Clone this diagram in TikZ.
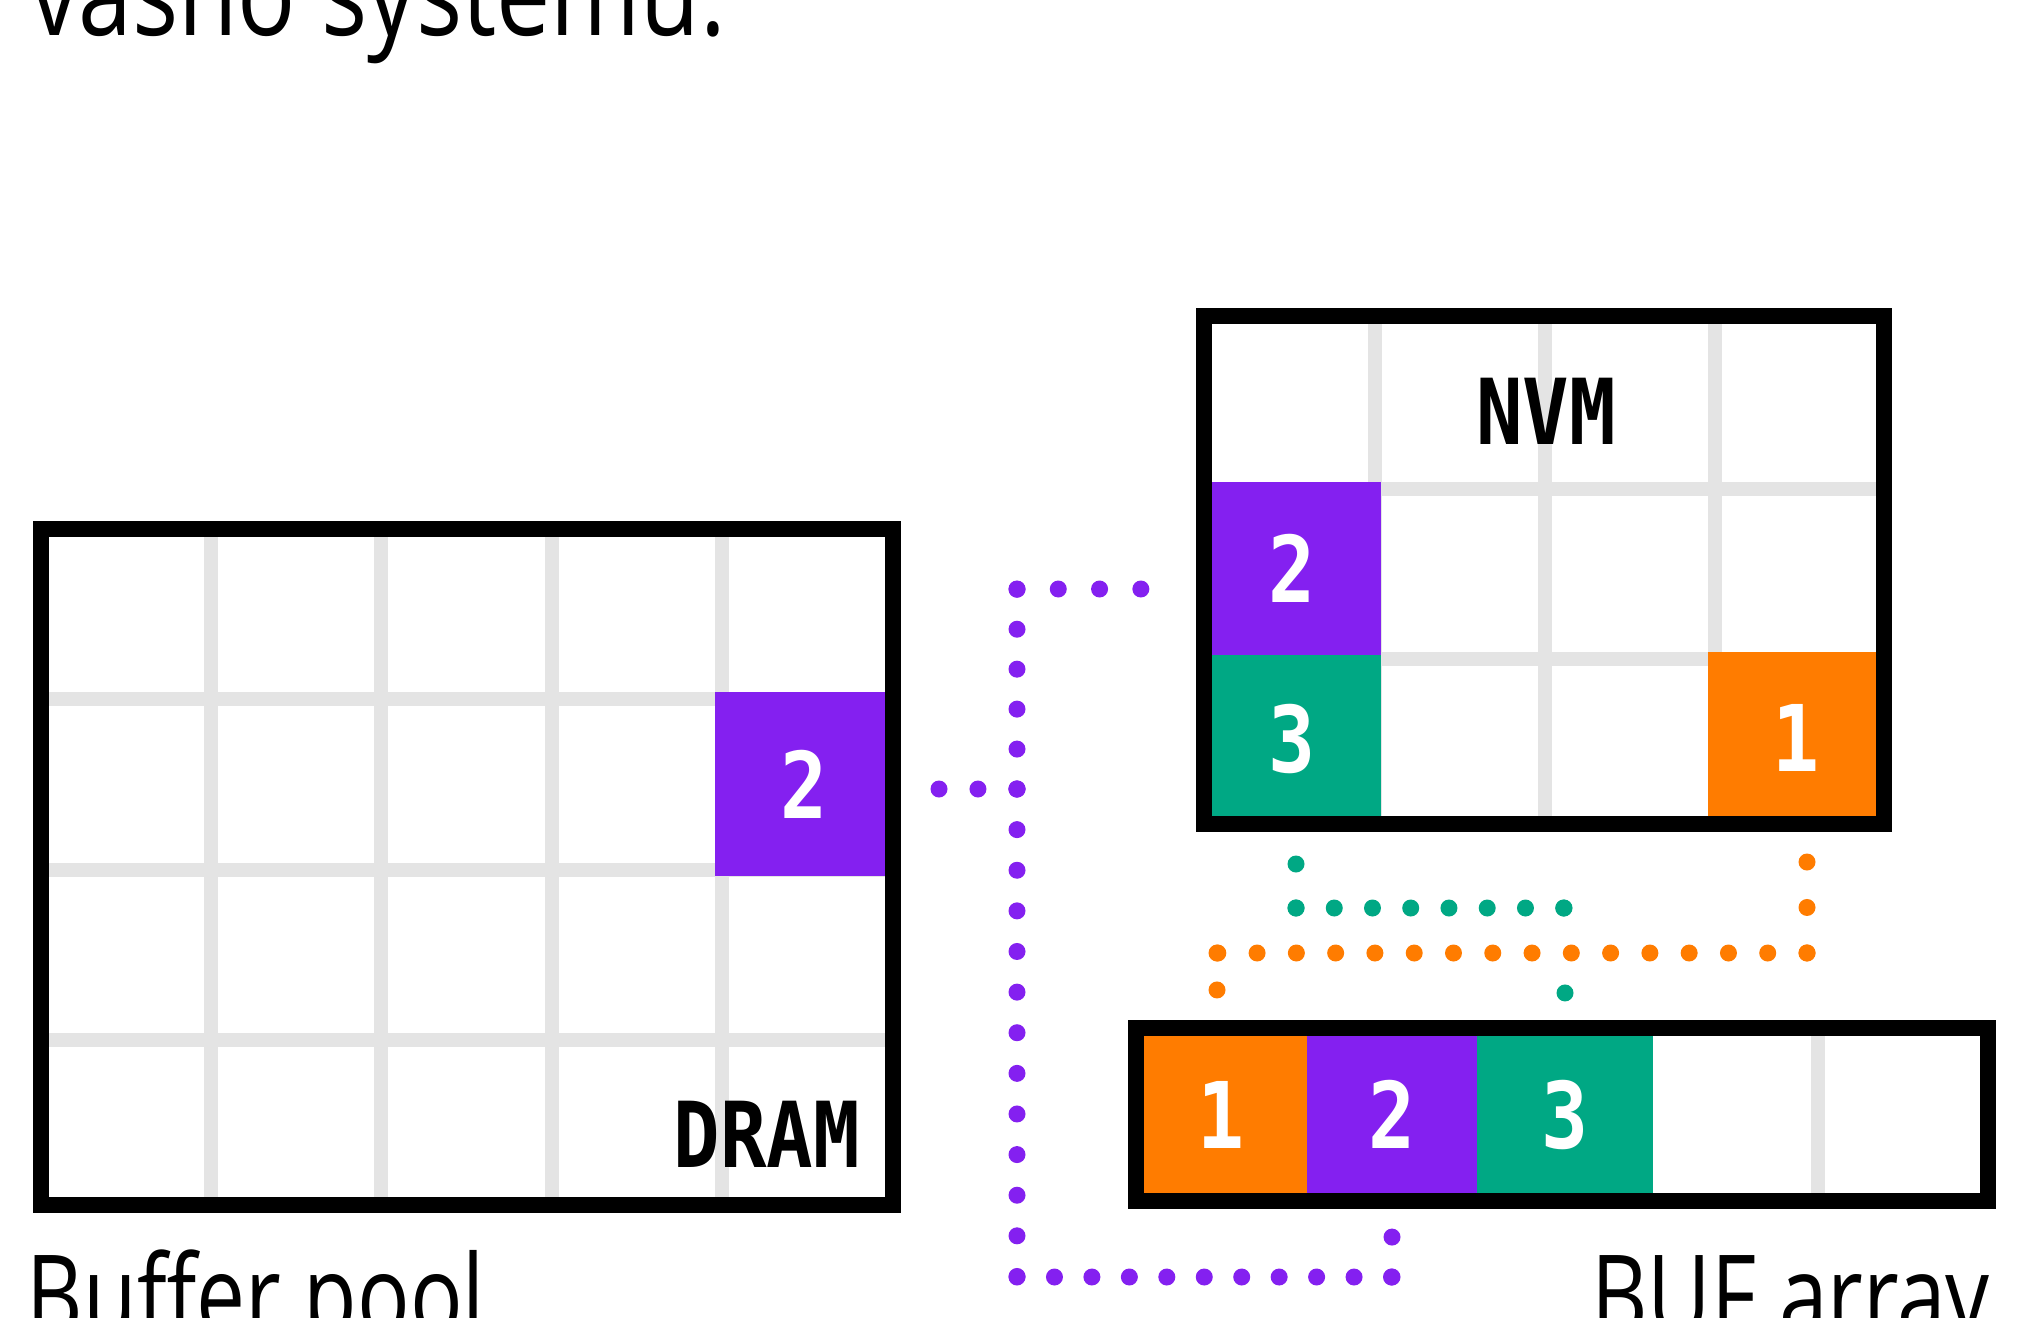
\documentclass[tikz,border=0pt]{standalone}
\usepackage{fontspec}
\newfontfamily\txfont{Open Sans}[FakeStretch=0.78]
\newfontfamily\ttlfont{Open Sans}[FakeStretch=0.82]
\newfontfamily\dgfont{DejaVu Sans Mono}[FakeStretch=0.85]
\definecolor{cpurple}{RGB}{132,32,240}
\definecolor{corange}{RGB}{255,124,0}
\definecolor{cgreen}{RGB}{0,168,132}
\definecolor{cgrid}{RGB}{228,228,228}
\tikzset{
  boxbg/.style={fill=white, inner sep=0pt, outer sep=0pt},
  boxline/.style={draw=black, line width=16pt},
  gridline/.style={draw=cgrid, line width=14pt},
  cell/.style={inner sep=0pt, outer sep=0pt, text=white, font=\dgfont\bfseries\fontsize{92}{92}\selectfont},
  memlabel/.style={inner sep=0pt, outer sep=0pt, text=black, font=\dgfont\bfseries\fontsize{91}{91}\selectfont},
  caption/.style={inner sep=0pt, outer sep=0pt, text=black, font=\txfont\fontsize{112}{112}\selectfont},
  titlecap/.style={inner sep=0pt, outer sep=0pt, text=black, font=\ttlfont\fontsize{118}{118}\selectfont},
  dotpath/.style={line width=17pt, line cap=round, dash pattern=on 0pt off #1},
}
\begin{document}
\begin{tikzpicture}[x=1pt,y=-1pt]
\path[use as bounding box, fill=white] (0,0) rectangle (2026,1317);
\clip (0,0) rectangle (2026,1317);

% captions
\node[titlecap, anchor=base west] (title) at (30,35) {vasho systemu.};
\node[caption, anchor=base west] (cappool) at (27,1335) {Buffer pool};
\node[caption, anchor=base east] (capbuf) at (1990,1335) {BUF array};

% ---------- DRAM ----------
\node[boxbg, minimum width=852pt, minimum height=676pt] (dram) at (467,867) {};
\foreach \x in {211,381,552,722} \draw[gridline] (\x,529) -- (\x,1205);
\foreach \y in {699,869.5,1039.5} \draw[gridline] (41,\y) -- (893,\y);
\node[cell, fill=cpurple, minimum width=178pt, minimum height=184pt] (dram2) at (804,784) {2};
\draw[boxline] (dram.north west) rectangle (dram.south east);
\node[memlabel, anchor=base east] (dramlabel) at (860,1167) {DRAM};

% ---------- NVM ----------
\node[boxbg, minimum width=680pt, minimum height=508pt] (nvm) at (1544,570) {};
\foreach \x in {1375,1545,1715} \draw[gridline] (\x,316) -- (\x,824);
\foreach \y in {489,659} \draw[gridline] (1204,\y) -- (1884,\y);
\node[cell, fill=cpurple, minimum width=177pt, minimum height=173pt] (nvm2) at (1292.5,568.5) {2};
\node[cell, fill=cgreen, minimum width=177pt, minimum height=169pt] (nvm3) at (1292.5,739.5) {3};
\node[cell, fill=corange, minimum width=176pt, minimum height=172pt] (nvm1) at (1796,738) {1};
\draw[boxline] (nvm.north west) rectangle (nvm.south east);
\node[memlabel, anchor=base] (nvmlabel) at (1546,444) {NVM};

% ---------- BUF array ----------
\node[boxbg, minimum width=852pt, minimum height=173pt] (buf) at (1562,1114.5) {};
\draw[gridline] (1818,1028) -- (1818,1201);
\node[cell, fill=corange, minimum width=171pt, minimum height=173pt] (buf1) at (1221.5,1114.5) {1};
\node[cell, fill=cpurple, minimum width=170pt, minimum height=173pt] (buf2) at (1392,1114.5) {2};
\node[cell, fill=cgreen, minimum width=176pt, minimum height=173pt] (buf3) at (1565,1114.5) {3};
\draw[boxline] (buf.north west) rectangle (buf.south east);

% ---------- dotted connectors ----------
% purple: DRAM 2 -> NVM 2 and BUF 2
\coordinate (p0) at (939,789);
\coordinate (p1) at (1017,789);
\coordinate (p2) at (1017,589);
\coordinate (p3) at (1141,589);
\coordinate (p4) at (1017,1277);
\coordinate (p5) at (1392,1277);
\coordinate (p6) at (1392,1237);
\draw[cpurple, dotpath=38.95pt] (p0) -- (p1);
\draw[cpurple, dotpath=39.95pt] (p1) -- (p2);
\draw[cpurple, dotpath=41.28pt] (p2) -- (p3);
\draw[cpurple, dotpath=40.62pt] (p1) -- (p4);
\draw[cpurple, dotpath=37.45pt] (p4) -- (p5);
\draw[cpurple, dotpath=39.95pt] (p5) -- (p6);

% green: NVM 3 -> BUF 3
\coordinate (g0) at (1296,864);
\coordinate (g1) at (1296,908);
\coordinate (g2) at (1564,908);
\coordinate (g3) at (1565,993);
\draw[cgreen, dotpath=43.95pt] (g0) -- (g1);
\draw[cgreen, dotpath=38.24pt] (g1) -- (g2);
\draw[cgreen, dotpath=84.95pt] (g2) -- (g3);

% orange: NVM 1 -> BUF 1
\coordinate (o0) at (1807,862);
\coordinate (o1) at (1807,953);
\coordinate (o2) at (1217,953);
\coordinate (o3) at (1217,990);
\draw[corange, dotpath=45.45pt] (o0) -- (o1);
\draw[corange, dotpath=39.28pt] (o1) -- (o2);
\draw[corange, dotpath=36.95pt] (o2) -- (o3);
\end{tikzpicture}
\end{document}
